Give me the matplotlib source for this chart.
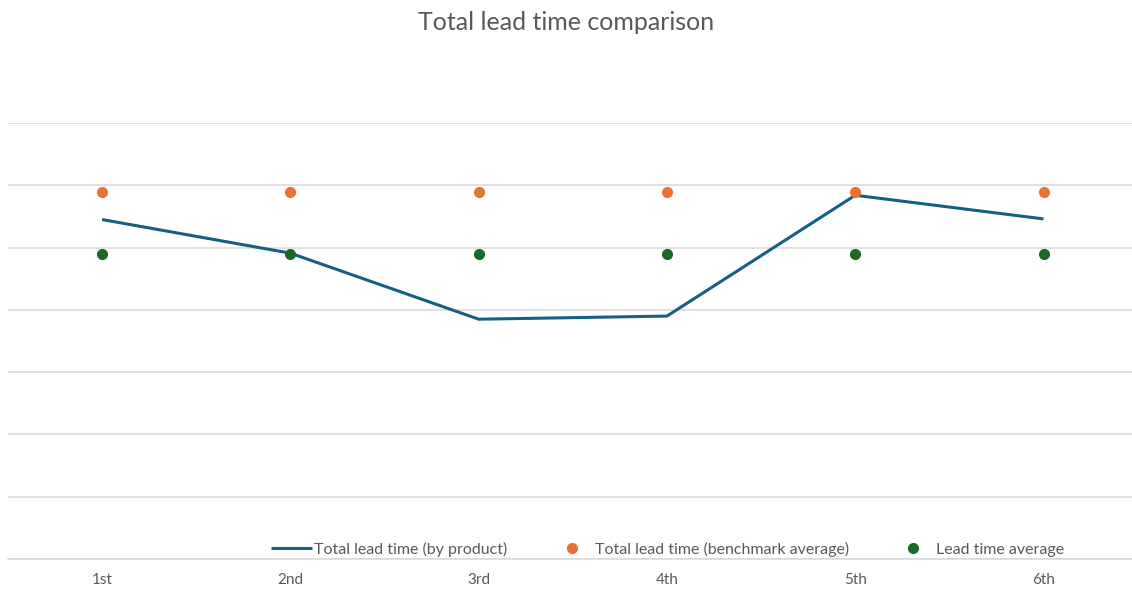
import matplotlib
matplotlib.use("Agg")
import matplotlib.pyplot as plt

plt.rcParams['font.family'] = ['Lato', 'DejaVu Sans']

# Data (grid units, no y-axis labels shown)
categories = ['1st', '2nd', '3rd', '4th', '5th', '6th']
lead_time_by_product = [5.45, 4.91, 3.85, 3.90, 5.84, 5.46]
benchmark_average = [5.90, 5.90, 5.90, 5.90, 5.90, 5.90]
lead_time_average = [4.90, 4.90, 4.90, 4.90, 4.90, 4.90]

W, H = 1132, 589
fig = plt.figure(figsize=(W / 100, H / 100), dpi=100)
ax = fig.add_axes([8 / W, 30 / H, 1124 / W, 436 / H])

x = range(len(categories))
ax.plot(x, lead_time_by_product, color='#156082', linewidth=2.2,
        solid_capstyle='butt', label='Total lead time (by product)', zorder=3)
ax.plot(x, benchmark_average, linestyle='none', marker='o', markersize=7,
        color='#E97132', label='Total lead time (benchmark average)', zorder=4)
ax.plot(x, lead_time_average, linestyle='none', marker='o', markersize=7,
        color='#196B24', label='Lead time average', zorder=4)

# Axis limits and grid
ax.set_xlim(-0.5, 5.47)
ax.set_ylim(0, 7)
ax.set_yticks(range(0, 8))
ax.yaxis.grid(True, color='#d9d9d9', linewidth=1.1)
ax.set_axisbelow(True)
ax.tick_params(axis='y', left=False, labelleft=False)
ax.set_xticks(list(x))
ax.set_xticklabels(categories, color='#595959', fontsize=11)
ax.tick_params(axis='x', length=0, pad=10)
for side in ['top', 'right', 'left']:
    ax.spines[side].set_visible(False)
ax.spines['bottom'].set_color('#d9d9d9')
ax.spines['bottom'].set_linewidth(1.1)

fig.suptitle('Total lead time comparison', color='#595959', fontsize=18,
             y=1 - 22 / H, va='center')

leg = fig.legend(loc='center left', bbox_to_anchor=(271 / W, 1 - 549 / H),
                 ncol=3, frameon=False, fontsize=11.5, borderpad=0,
                 borderaxespad=0, handlelength=2.56, handletextpad=0.15,
                 columnspacing=2.75)
for t in leg.get_texts():
    t.set_color('#595959')

fig.savefig('out.png', dpi=100, facecolor='white')
